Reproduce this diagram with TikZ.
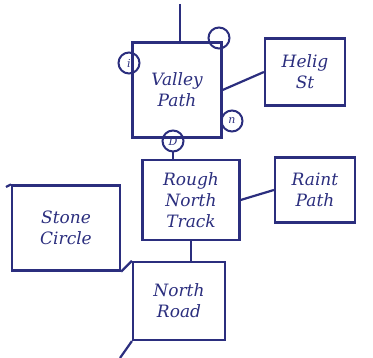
\documentclass[tikz,border=0pt]{standalone}
\usepackage{fontspec}
\setmainfont{DejaVu Serif}
\definecolor{ink}{HTML}{2B2E7E}
\begin{document}
\begin{tikzpicture}[x=1pt,y=-1pt,
  place/.style={draw=ink,line width=2.2pt,rectangle,align=center,text=ink,
    font=\itshape\fontsize{17}{21}\selectfont,inner sep=2pt},
  tag/.style={draw=ink,line width=2pt,circle,minimum size=21pt,inner sep=0pt,
    text=ink,font=\itshape\fontsize{11}{11}\selectfont},
  link/.style={draw=ink,line width=2.2pt}]
\useasboundingbox (0,0) rectangle (373,358);
\fill[white] (0,0) rectangle (373,358);
\node[place,minimum width=89pt,minimum height=95pt] (valley) at (177,90) {Valley\\Path};
\node[place,minimum width=80pt,minimum height=67pt] (helig) at (305,72) {Helig\\St};
\node[place,minimum width=97pt,minimum height=80pt] (rough) at (191,200) {Rough\\North\\Track};
\node[place,minimum width=80pt,minimum height=65pt] (raint) at (315,190) {Raint\\Path};
\node[place,minimum width=108pt,minimum height=85pt] (stone) at (66,228) {Stone\\Circle};
\node[place,minimum width=92pt,minimum height=78pt] (north) at (179,301) {North\\Road};
\node[tag] (c1) at (129,63) {i};
\node[tag] (c2) at (219,38) {};
\node[tag] (c3) at (232,121) {n};
\node[tag] (c4) at (173,141) {D};
\coordinate (top) at (180,4);
\coordinate (bot) at (120,358);
\coordinate (stub) at (6,187);
\draw[link] (top) -- (valley.north -| top);
\draw[link] (valley.east) -- (helig.west);
\draw[link] (c4) -- (rough.north -| c4);
\draw[link] (rough.east) -- (raint.west);
\draw[link] (rough.south) -- (north.north -| rough.south);
\draw[link] (stone.south east) -- (north.north west);
\draw[link] (north.south west) -- (bot);
\draw[link] (stub) -- (stone.north west);
\end{tikzpicture}
\end{document}
